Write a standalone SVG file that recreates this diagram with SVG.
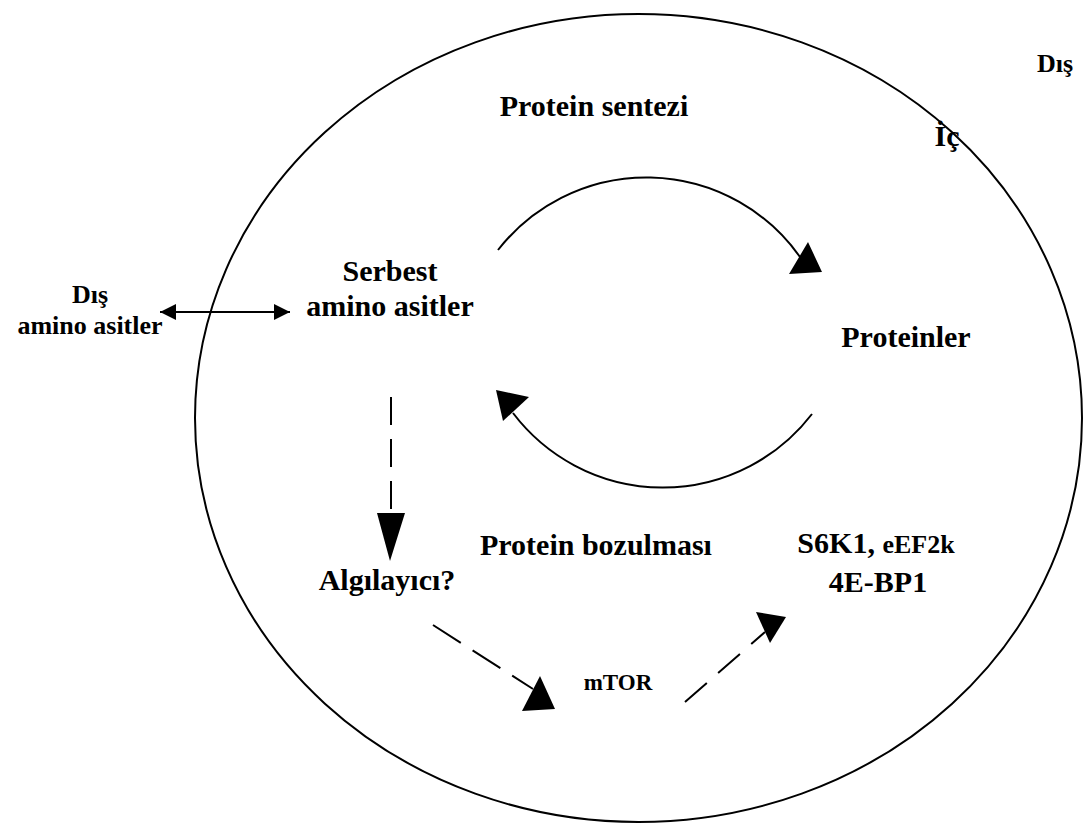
<svg xmlns="http://www.w3.org/2000/svg" width="1091" height="826" viewBox="0 0 1091 826">
<style>
  text { font-family: "Liberation Serif", "Times New Roman", serif; font-weight: bold; fill: #000; text-anchor: middle; }
  .big { font-size: 30px; }
  .mid { font-size: 26px; }
  .sm { font-size: 23px; }
  .ln { fill: none; stroke: #000; stroke-width: 2; }
  .head { fill: #000; stroke: none; }
</style>
<defs>
  <marker id="ah" viewBox="0 0 16 16" refX="16" refY="8" markerWidth="16" markerHeight="16" markerUnits="userSpaceOnUse" orient="auto-start-reverse">
    <path d="M0,0 L16,8 L0,16 Z" fill="#000"/>
  </marker>
</defs>
<g id="cell">
  <ellipse cx="638.5" cy="418" rx="443.5" ry="404" class="ln"/>
</g>
<g id="connectors">
  <line x1="160" y1="312" x2="290" y2="312" class="ln" marker-start="url(#ah)" marker-end="url(#ah)"/>
  <path d="M498,250 A188,188 0 0 1 800,257" class="ln"/>
  <polygon points="808,242 789,274 822,272" class="head"/>
  <path d="M812,414 A188,188 0 0 1 513,413" class="ln"/>
  <polygon points="496,390 529,397 503,421" class="head"/>
  <line x1="391" y1="397" x2="391" y2="513" class="ln" stroke-dasharray="28 14"/>
  <polygon points="377,513 405,513 390,561" class="head"/>
  <line x1="433" y1="625" x2="533" y2="689" class="ln" stroke-dasharray="33 14"/>
  <polygon points="540,676 522,711 555,709" class="head"/>
  <line x1="685" y1="702" x2="765" y2="632" class="ln" stroke-dasharray="29 15"/>
  <polygon points="756,612 786,617 770,643" class="head"/>
</g>
<g id="outside-label"><text x="1055" y="72" class="mid">Dış</text></g>
<g id="inside-label"><text x="947" y="146" class="big">İç</text></g>
<g id="synthesis"><text x="594" y="116" class="big">Protein sentezi</text></g>
<g id="free-aa"><text x="390" y="281" class="big">Serbest</text><text x="390" y="316" class="big">amino asitler</text></g>
<g id="ext-aa"><text x="90" y="303" class="mid">Dış</text><text x="90" y="334" class="mid">amino asitler</text></g>
<g id="proteins"><text x="906" y="347" class="big">Proteinler</text></g>
<g id="degradation"><text x="596" y="555" class="big">Protein bozulması</text></g>
<g id="sensor"><text x="387" y="590" class="big">Algılayıcı?</text></g>
<g id="mtor"><text x="618" y="690" class="sm">mTOR</text></g>
<g id="targets"><text x="876" y="553"><tspan class="big">S6K1, </tspan><tspan class="mid">eEF2k</tspan></text><text x="878" y="592" class="big">4E-BP1</text></g>
</svg>
